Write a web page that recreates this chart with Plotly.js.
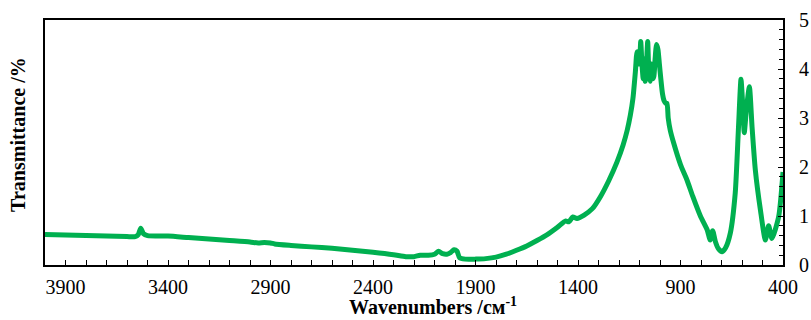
<!DOCTYPE html>
<html>
<head>
<meta charset="utf-8">
<script src="https://cdn.plot.ly/plotly-3.0.1.min.js"></script>
<style>html,body{margin:0;padding:0;background:#fff;}#chart{width:811px;height:320px;}</style>
</head>
<body>
<div id="chart"></div>
<script>
const wavenumbers = [4000,3900,3800,3700,3600,3560,3545,3533,3520,3500,3400,3300,3200,3100,3000,2960,2930,2900,2880,2800,2700,2600,2500,2400,2300,2240,2200,2170,2130,2100,2080,2060,2040,2020,2005,1990,1978,1950,1900,1850,1800,1750,1700,1650,1600,1550,1500,1460,1445,1425,1405,1370,1330,1290,1250,1210,1180,1160,1145,1132,1120,1112,1106,1100,1094,1088,1082,1077,1072,1066,1060,1054,1048,1042,1036,1030,1024,1017,1010,1003,996,988,980,972,966,960,950,934,900,868,840,803,770,755,743,730,715,697,680,657,633,617,605,597,589,578,564,551,535,510,486,470,454,421,400];
const transmittance = [0.62,0.61,0.60,0.59,0.58,0.58,0.62,0.75,0.64,0.60,0.59,0.56,0.53,0.50,0.47,0.45,0.46,0.45,0.43,0.40,0.37,0.34,0.30,0.26,0.21,0.17,0.17,0.20,0.20,0.22,0.28,0.23,0.22,0.26,0.31,0.28,0.15,0.12,0.12,0.13,0.16,0.22,0.30,0.39,0.50,0.62,0.77,0.90,0.88,0.98,0.95,1.02,1.15,1.40,1.72,2.10,2.45,2.75,3.05,3.40,3.95,4.35,4.30,4.10,4.56,4.10,3.80,4.20,3.75,4.10,4.56,3.90,3.75,4.10,3.80,3.85,4.20,4.50,4.40,4.10,3.80,3.50,3.35,3.30,3.30,3.00,2.75,2.50,2.05,1.73,1.40,1.00,0.72,0.51,0.70,0.48,0.33,0.27,0.35,0.65,1.47,2.82,3.79,3.30,2.70,3.20,3.64,2.82,1.94,1.12,0.51,0.80,0.54,0.99,1.90];
const xTickValues = [3900,3400,2900,2400,1900,1400,900,400];
const yTickValues = [0,1,2,3,4,5];

const serif = "'Liberation Serif', 'Times New Roman', Times, serif";
const trace = {
  x: wavenumbers, y: transmittance, type: 'scatter', mode: 'lines',
  line: {color: '#00B050', width: 5, shape: 'spline', smoothing: 0.6},
  hoverinfo: 'skip'
};
const layout = {
  width: 811, height: 320,
  margin: {l: 45, r: 28, t: 20, b: 55},
  paper_bgcolor: '#fff', plot_bgcolor: '#fff',
  showlegend: false,
  font: {family: serif, size: 20, color: '#000'},
  xaxis: {
    range: [4000, 400], autorange: false,
    tickmode: 'array', tickvals: xTickValues, ticktext: xTickValues.map(String),
    ticks: 'inside', ticklen: 5, tickwidth: 1, tickcolor: '#000',
    minor: {dtick: 100, tick0: 400, ticks: 'inside', ticklen: 5, tickwidth: 1, tickcolor: '#000'},
    showline: true, linecolor: '#000', linewidth: 2, mirror: true,
    showgrid: false, zeroline: false,
    ticklabelstandoff: 3,
    tickfont: {family: serif, size: 20, color: '#000'}
  },
  yaxis: {
    range: [0, 5], autorange: false, side: 'right',
    tickmode: 'array', tickvals: yTickValues, ticktext: yTickValues.map(String),
    ticks: 'inside', ticklen: 5, tickwidth: 1, tickcolor: '#000',
    minor: {dtick: 0.2, tick0: 0, ticks: 'inside', ticklen: 4, tickwidth: 1, tickcolor: '#000'},
    showline: true, linecolor: '#000', linewidth: 2, mirror: true,
    showgrid: false, zeroline: false,
    ticklabelstandoff: 10,
    tickfont: {family: serif, size: 20, color: '#000'}
  },
  annotations: [
    {text: '<b>Wavenumbers /см<sup>-1</sup></b>', xref: 'paper', yref: 'paper',
     x: 0.526, y: -0.2245, xanchor: 'center', yanchor: 'bottom', showarrow: false,
     font: {family: serif, size: 20, color: '#000'}},
    {text: '<b>Transmittance /%</b>', xref: 'paper', yref: 'paper',
     x: -0.0366, y: 0.535, xanchor: 'center', yanchor: 'middle', textangle: -90, showarrow: false,
     font: {family: serif, size: 20, color: '#000'}}
  ]
};
Plotly.newPlot('chart', [trace], layout, {staticPlot: true, displayModeBar: false});
</script>
</body>
</html>
